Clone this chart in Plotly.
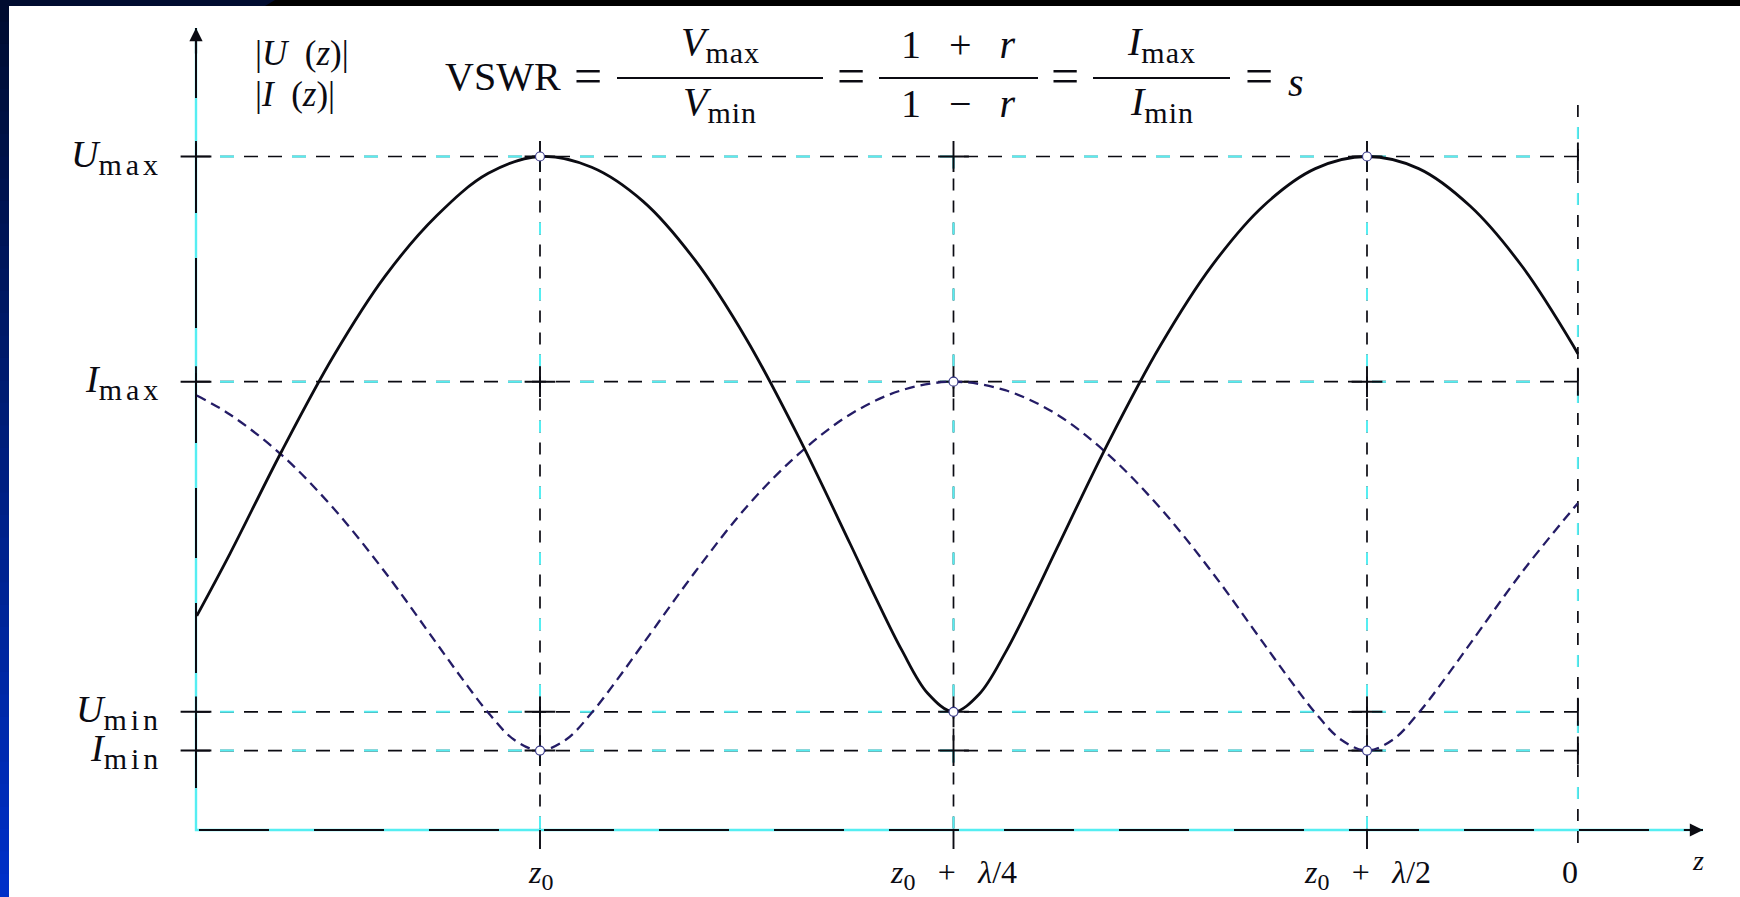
import plotly.graph_objects as go

# ---------------- data ----------------
# position along the line in units of lambda/4, measured from z0
t_u = [-0.830, -0.750, -0.625, -0.500, -0.375, -0.250, -0.125, 0.000, 0.125, 0.250,
       0.375, 0.500, 0.625, 0.750, 0.8125, 0.875, 0.9375, 1.000, 1.0625, 1.125,
       1.1875, 1.250, 1.375, 1.500, 1.625, 1.750, 1.875, 2.000, 2.125, 2.250,
       2.375, 2.500, 2.510]
u_vals = [0.318, 0.410, 0.562, 0.703, 0.822, 0.912, 0.975, 1.000, 0.984, 0.933,
          0.846, 0.728, 0.584, 0.425, 0.344, 0.267, 0.203, 0.1755, 0.202, 0.263,
          0.338, 0.418, 0.576, 0.719, 0.838, 0.927, 0.982, 1.000, 0.982, 0.926,
          0.837, 0.718, 0.707]

t_i = [-0.830, -0.750, -0.625, -0.500, -0.375, -0.250, -0.1875, -0.125, -0.0625, 0.000,
       0.0625, 0.125, 0.1875, 0.250, 0.375, 0.500, 0.625, 0.750, 0.875, 1.000,
       1.125, 1.250, 1.375, 1.500, 1.625, 1.750, 1.8125, 1.875, 1.9375, 2.000,
       2.0625, 2.125, 2.1875, 2.250, 2.375, 2.500, 2.510]
i_vals = [0.645, 0.617, 0.557, 0.478, 0.383, 0.277, 0.224, 0.174, 0.134, 0.118,
          0.134, 0.174, 0.224, 0.277, 0.383, 0.480, 0.558, 0.617, 0.653, 0.6656,
          0.653, 0.617, 0.557, 0.478, 0.383, 0.277, 0.224, 0.174, 0.134, 0.118,
          0.134, 0.174, 0.224, 0.277, 0.383, 0.478, 0.485]

SUBL = "<sub><span style='font-size:30px;letter-spacing:4px'>{}</span></sub>"
level_labels = ["<i>U</i>" + SUBL.format("max"), "<i>I</i>" + SUBL.format("max"),
                "<i>U</i>" + SUBL.format("min"), "<i>I</i>" + SUBL.format("min")]
level_vals = [1.0, 0.6656, 0.1755, 0.118]

SUBZ = "<sub><span style='font-size:24px'>0</span></sub>"
SP = "\u2002\u2009"
z_ticks = [0, 1, 2]
z_tick_labels = ["<i>z</i>" + SUBZ,
                 "<i>z</i>" + SUBZ + SP + "+" + SP + "<i>λ</i>/4",
                 "<i>z</i>" + SUBZ + SP + "+" + SP + "<i>λ</i>/2"]
z_load = 2.51
z_load_label = "0"

# extrema markers (position, value)
ext_t = [0, 0, 1, 1, 2, 2]
ext_v = [1.0, 0.118, 0.6656, 0.1755, 1.0, 0.118]

# ---------------- geometry ----------------
W, H = 1740, 897
PX0, PXU = 540.0, 413.5      # pixel of z0, pixels per lambda/4
PY0, PYU = 830.0, 673.5      # pixel of the z axis, pixels per Umax
X_RANGE = [(0 - PX0) / PXU, (W - PX0) / PXU]
Y_RANGE = [(PY0 - H) / PYU, PY0 / PYU]
T_AX = (196 - PX0) / PXU     # position of vertical axis
T_TIP = (1703 - PX0) / PXU
V_TIP = (PY0 - 28) / PYU
V_BELOW = -19 / PYU
V_LOAD_TOP = (PY0 - 105) / PYU

SERIF = "Liberation Serif"
INK = "#0b0b12"
CYAN = "#55eef2"

fig = go.Figure()


def dashed(xs, ys, pattern, overlay):
    fig.add_trace(go.Scatter(x=xs, y=ys, mode="lines",
                             line=dict(color=INK, width=1.7, dash=pattern),
                             hoverinfo="skip", showlegend=False))
    fig.add_trace(go.Scatter(x=xs, y=ys, mode="lines",
                             line=dict(color=CYAN, width=2.0, dash=overlay),
                             hoverinfo="skip", showlegend=False))


# axes (scan shows them partly cyan)
fig.add_trace(go.Scatter(x=[T_AX, T_AX, T_TIP], y=[V_TIP, 0, 0], mode="lines",
                         line=dict(color=CYAN, width=2.4),
                         hoverinfo="skip", showlegend=False))
fig.add_trace(go.Scatter(x=[T_AX, T_AX, T_TIP], y=[V_TIP, 0, 0], mode="lines",
                         line=dict(color=INK, width=2.0, dash="70px,45px"),
                         hoverinfo="skip", showlegend=False))

# horizontal reference levels
for v in level_vals:
    dashed([T_AX, z_load], [v, v], "14px,10px", "0px,24px,14px,34px")
# vertical reference lines
for t in z_ticks:
    dashed([t, t], [level_vals[0], 0], "12px,10px", "12px,54px")
    fig.add_trace(go.Scatter(x=[t, t], y=[0, V_BELOW], mode="lines",
                             line=dict(color=INK, width=1.9),
                             hoverinfo="skip", showlegend=False))
dashed([z_load, z_load], [V_LOAD_TOP, V_BELOW], "12px,10px", "0px,22px,12px,32px")

# cross ticks at intersections
cx, cy = [], []
for v in level_vals:
    cx.append(T_AX); cy.append(v)
    for t in z_ticks:
        cx.append(t); cy.append(v)
fig.add_trace(go.Scatter(x=cx, y=cy, mode="markers",
                         marker=dict(symbol="cross-thin", size=22,
                                     line=dict(color=INK, width=1.9)),
                         hoverinfo="skip", showlegend=False))
fig.add_trace(go.Scatter(x=[z_load] * len(level_vals), y=level_vals, mode="markers",
                         marker=dict(symbol="line-ns", size=20,
                                     line=dict(color=INK, width=1.9)),
                         hoverinfo="skip", showlegend=False))

# curves
fig.add_trace(go.Scatter(x=t_i, y=i_vals, mode="lines",
                         line=dict(color="#241c66", width=2.3, dash="10px,6px",
                                   shape="spline", smoothing=1.0),
                         name="|I(z)|", showlegend=False))
fig.add_trace(go.Scatter(x=t_u, y=u_vals, mode="lines",
                         line=dict(color=INK, width=2.8, shape="spline", smoothing=1.0),
                         name="|U(z)|", showlegend=False))

# extrema circles
fig.add_trace(go.Scatter(x=ext_t, y=ext_v, mode="markers",
                         marker=dict(symbol="circle", size=9, color="white",
                                     line=dict(color="#3a3a8a", width=1.2)),
                         hoverinfo="skip", showlegend=False))

annotations = []
# arrow heads of the axes
annotations.append(dict(x=T_TIP, y=0, ax=T_TIP - 0.05, ay=0, xref="x", yref="y",
                        axref="x", ayref="y", text="", showarrow=True,
                        arrowhead=2, arrowsize=1.2, arrowwidth=2.2, arrowcolor=INK))
annotations.append(dict(x=T_AX, y=V_TIP, ax=T_AX, ay=V_TIP - 0.04, xref="x", yref="y",
                        axref="x", ayref="y", text="", showarrow=True,
                        arrowhead=2, arrowsize=1.2, arrowwidth=2.2, arrowcolor=INK))

# level labels
for lab, v in zip(level_labels, level_vals):
    annotations.append(dict(x=(164 - PX0) / PXU, y=v, xref="x", yref="y",
                            text=lab, showarrow=False, xanchor="right", yanchor="middle",
                            yshift=0, font=dict(family=SERIF, size=38, color=INK)))
# z tick labels
for lab, t, xs in zip(z_tick_labels + [z_load_label], z_ticks + [z_load], [0, 0, 0, -8]):
    annotations.append(dict(x=t, y=0, xref="x", yref="y", text=lab, showarrow=False,
                            xanchor="center", yanchor="top", yshift=-22, xshift=xs,
                            font=dict(family=SERIF, size=32, color=INK)))
annotations.append(dict(x=(1698 - PX0) / PXU, y=0, xref="x", yref="y", text="<i>z</i>",
                        showarrow=False, xanchor="center", yanchor="middle", yshift=-30,
                        font=dict(family=SERIF, size=28, color=INK)))


def ptxt(px, py, text, size, anchor="center"):
    annotations.append(dict(x=px / W, y=1 - py / H, xref="paper", yref="paper",
                            text=text, showarrow=False, xanchor=anchor, yanchor="middle",
                            font=dict(family=SERIF, size=size, color=INK)))


# axis title
ptxt(253, 54, "|<i>U</i>\u2002(<i>z</i>)|", 35, "left")
ptxt(253, 94, "|<i>I</i>\u2002(<i>z</i>)|", 35, "left")

# VSWR formula
SUBT = "<sub><span style='font-size:30px;letter-spacing:1px'>{}</span></sub>"
ptxt(503, 76, "VSWR", 40)
for px in (588, 851, 1065, 1259):
    ptxt(px, 76, "=", 50)
fracs = [((617, 823), "<i>V</i>" + SUBT.format("max"), "<i>V</i>" + SUBT.format("min")),
         ((879, 1038), "1" + SP + "+" + SP + "<i>r</i>", "1" + SP + "−" + SP + "<i>r</i>"),
         ((1093, 1230), "<i>I</i>" + SUBT.format("max"), "<i>I</i>" + SUBT.format("min"))]
shapes = []
for (x0, x1), num, den in fracs:
    ptxt((x0 + x1) / 2, 44, num, 40)
    ptxt((x0 + x1) / 2, 104, den, 40)
    shapes.append(dict(type="line", xref="paper", yref="paper", x0=x0 / W, x1=x1 / W,
                       y0=1 - 78 / H, y1=1 - 78 / H, line=dict(color=INK, width=2.2)))
ptxt(1296, 82, "<i>s</i>", 40)

# frame: dark top band and blue gradient left band
shapes.append(dict(type="rect", xref="paper", yref="paper", x0=0, x1=1,
                   y0=1 - 6 / H, y1=1, fillcolor="#000000", line=dict(width=0), layer="above"))
shapes.append(dict(type="path", xref="paper", yref="paper",
                   path=f"M 0 1 L {275 / W} 1 L {265 / W} {1 - 6 / H} L 0 {1 - 6 / H} Z",
                   fillcolor="#000c30", line=dict(width=0), layer="above"))
n_strips = 40
c_top, c_bot = (0, 12, 48), (0, 48, 200)
for k in range(n_strips):
    f = k / (n_strips - 1)
    col = tuple(round(a + (b - a) * f) for a, b in zip(c_top, c_bot))
    shapes.append(dict(type="rect", xref="paper", yref="paper", x0=0, x1=9 / W,
                       y0=1 - (k + 1) / n_strips, y1=1 - k / n_strips + 0.001,
                       fillcolor=f"rgb{col}", line=dict(width=0), layer="above"))

fig.update_layout(
    width=W, height=H, margin=dict(l=0, r=0, t=0, b=0),
    paper_bgcolor="white", plot_bgcolor="white",
    xaxis=dict(range=X_RANGE, visible=False, domain=[0, 1], fixedrange=True),
    yaxis=dict(range=Y_RANGE, visible=False, domain=[0, 1], fixedrange=True),
    annotations=annotations, shapes=shapes, showlegend=False,
)
fig.write_html("out.html")
